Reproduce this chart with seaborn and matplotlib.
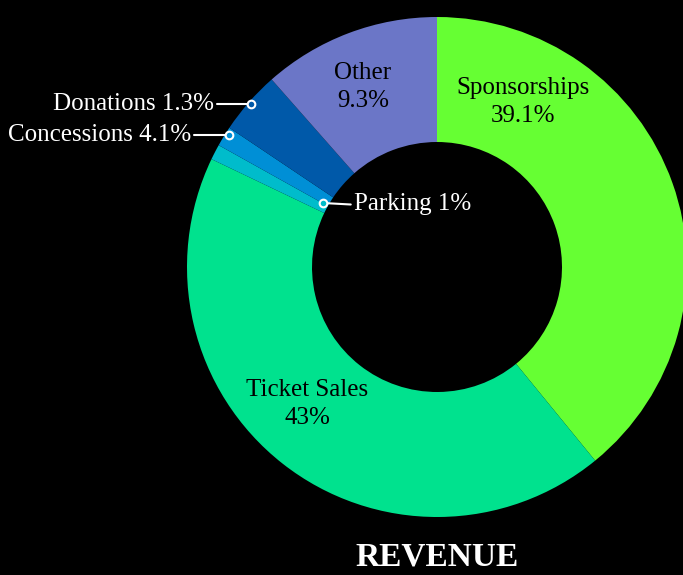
import numpy as np
import matplotlib
matplotlib.use("Agg")
import matplotlib.pyplot as plt
import seaborn as sns

# dados do gráfico (ordem horária a partir do topo)
categorias = ["Sponsorships", "Ticket Sales", "Parking", "Concessions", "Donations", "Other"]
valores = [39.1, 43.0, 1.0, 1.3, 4.1, 11.5]
rotulos_pct = ["39.1%", "43%", "1%", "4.1%", "1.3%", "9.3%"]
cores = ["#66ff33", "#00e28e", "#00bccb", "#008fd6", "#0059a9", "#6b76c7"]

sns.set_theme(style="dark")
plt.rcParams['font.family'] = ['Liberation Serif', 'DejaVu Serif']

fig = plt.figure(figsize=(6.83, 5.75), dpi=100, facecolor="black")
ax = fig.add_axes([0, 0, 1, 1])
ax.set_facecolor("black")

ax.pie(valores, colors=cores, startangle=90, counterclock=False, radius=1.0,
       wedgeprops=dict(width=0.5, edgecolor="none", linewidth=0, antialiased=True))

ax.set_xlim(-1.748, 0.984)
ax.set_ylim(-1.232, 1.068)
ax.set_aspect("equal")
ax.axis("off")

# rótulos dentro das fatias grandes
internos = {"Sponsorships": (0.344, 0.66), "Ticket Sales": (-0.52, -0.548), "Other": (-0.296, 0.72)}
for nome, (x, y) in internos.items():
    i = categorias.index(nome)
    ax.text(x, y, f"{nome}\n{rotulos_pct[i]}", ha="center", va="center", color="black",
            fontsize=18, linespacing=1.35)

# rótulos externos com conectores
externos = {
    "Parking": ((-0.456, 0.256), (-0.345, 0.250), "left"),
    "Concessions": ((-0.832, 0.528), (-0.97, 0.528), "right"),
    "Donations": ((-0.744, 0.652), (-0.880, 0.652), "right"),
}
for nome, ((px, py), (tx, ty), ha) in externos.items():
    i = categorias.index(nome)
    ax.plot([px, tx], [py, ty], color="white", lw=1.5, zorder=3)
    ax.plot(px, py, "o", ms=5.5, mfc=cores[i], mec="white", mew=1.5, zorder=4)
    dx = 0.012 if ha == "left" else -0.012
    ax.text(tx + dx, ty, f"{nome} {rotulos_pct[i]}", ha=ha, va="center", color="white", fontsize=18)

ax.text(0.0, -1.16, "REVENUE", ha="center", va="center", color="white",
        fontsize=24, fontweight="bold")

fig.savefig("out.png", dpi=100, facecolor="black")
